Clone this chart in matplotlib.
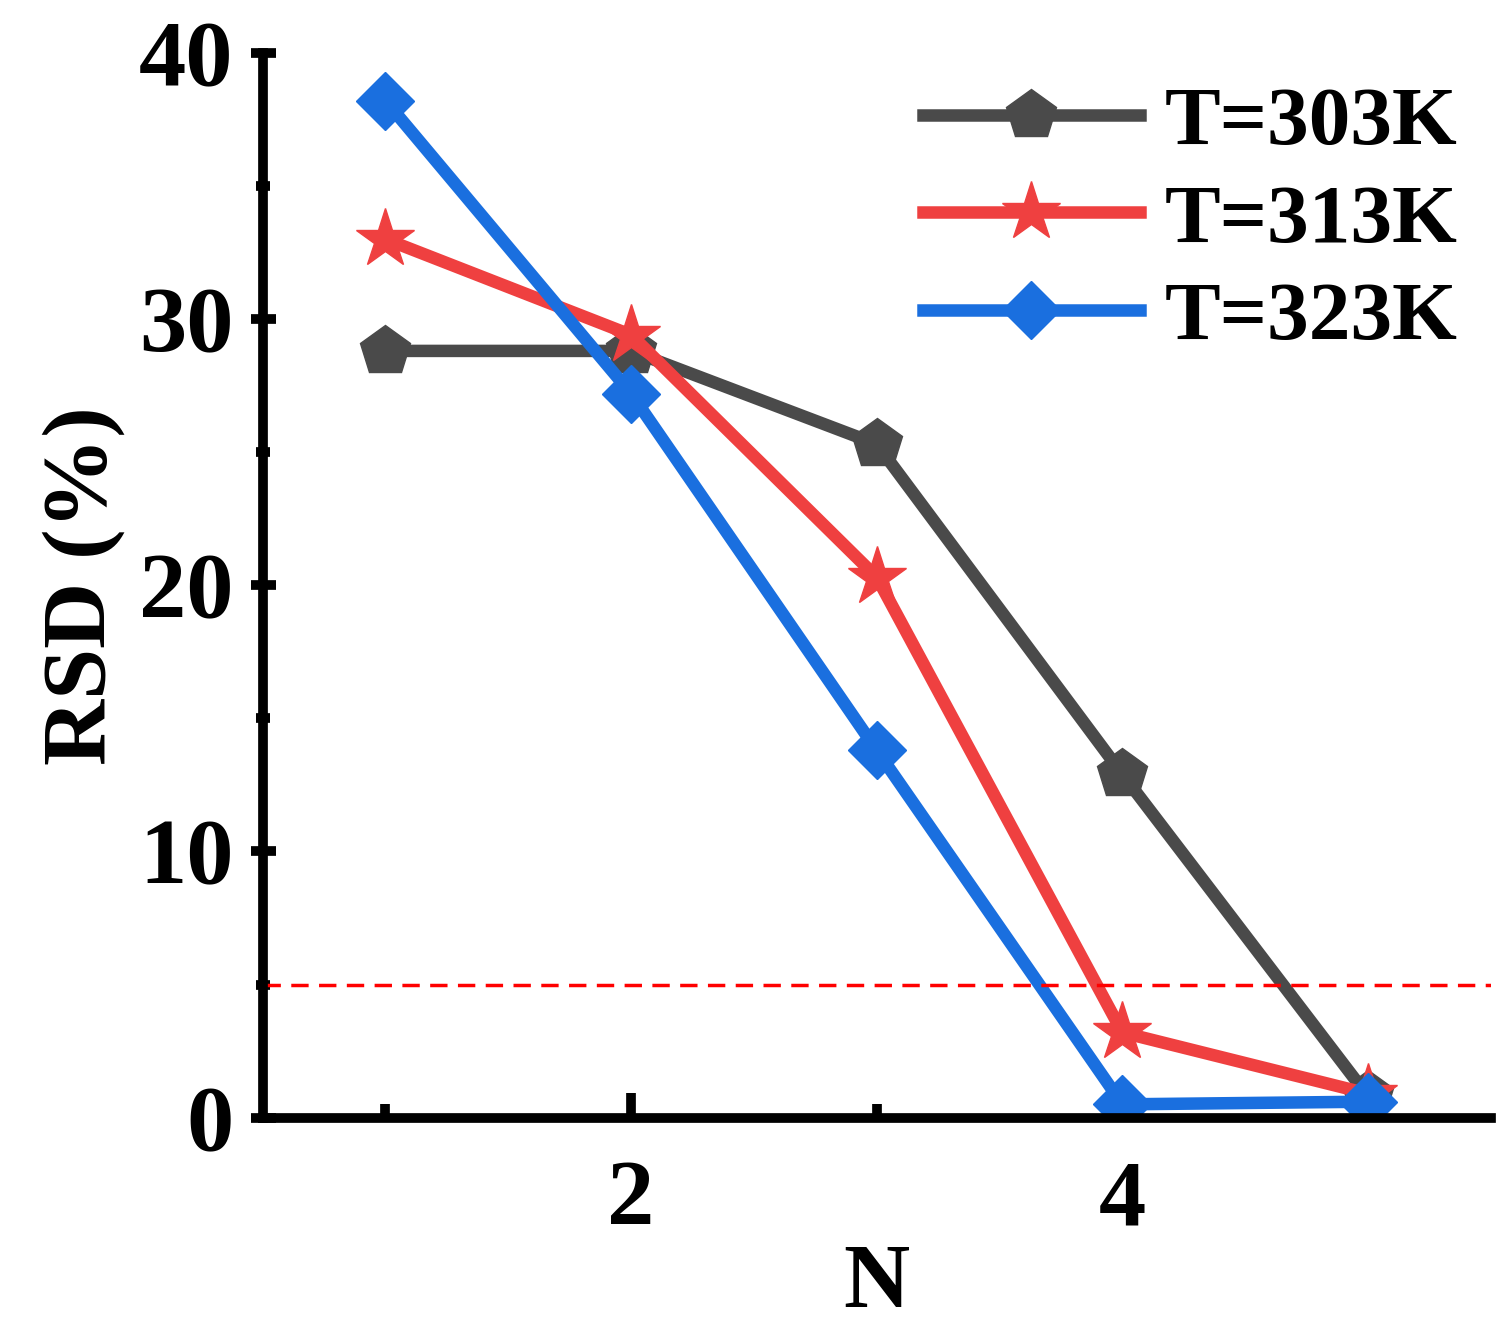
import matplotlib
matplotlib.use("Agg")
import matplotlib.pyplot as plt
from matplotlib.ticker import MultipleLocator

plt.rcParams['font.family'] = ['Liberation Serif', 'DejaVu Serif']
plt.rcParams['font.weight'] = 'bold'

N = [1, 2, 3, 4, 5]
rsd_303 = [28.8, 28.8, 25.3, 12.9, 0.8]
rsd_313 = [33.0, 29.4, 20.3, 3.2, 0.9]
rsd_323 = [38.2, 27.2, 13.8, 0.5, 0.6]
threshold = 5

fig = plt.figure(figsize=(15.09, 13.18), dpi=100)
ax = fig.add_axes([0.174, 0.152, 0.814, 0.808])

ax.plot(N, rsd_303, color='#4a4a4a', lw=9, marker='p', ms=38, label='T=303K')
ax.plot(N, rsd_313, color='#ef4040', lw=9, marker='*', ms=44, label='T=313K')
ax.plot(N, rsd_323, color='#1a6fdf', lw=9, marker='D', ms=30, label='T=323K')
ax.axhline(threshold, color='red', ls='--', lw=2.5, dashes=(5, 3))

ax.set_xlim(0.5, 5.5)
ax.set_ylim(0, 40)
ax.xaxis.set_major_locator(MultipleLocator(2))
ax.xaxis.set_minor_locator(MultipleLocator(1))
ax.yaxis.set_major_locator(MultipleLocator(10))
ax.yaxis.set_minor_locator(MultipleLocator(5))
for s in ['top', 'right']:
    ax.spines[s].set_visible(False)
for s in ['left', 'bottom']:
    ax.spines[s].set_linewidth(7)
ax.tick_params(which='major', length=18, width=7, labelsize=68, pad=12)
ax.tick_params(which='minor', length=10, width=7)
ax.tick_params(axis='x', which='both', direction='in', pad=30)
ax.tick_params(axis='y', which='both', direction='inout')
ax.set_xlabel('N', fontsize=66, fontweight='bold', labelpad=0)
ax.set_ylabel('RSD (%)', fontsize=66, fontweight='bold', labelpad=10)

ax.legend(loc='upper right', fontsize=60, frameon=False, handlelength=2.6,
          borderaxespad=0.0, labelspacing=0.25, handletextpad=0.3)

fig.savefig('out.png', dpi=100)
